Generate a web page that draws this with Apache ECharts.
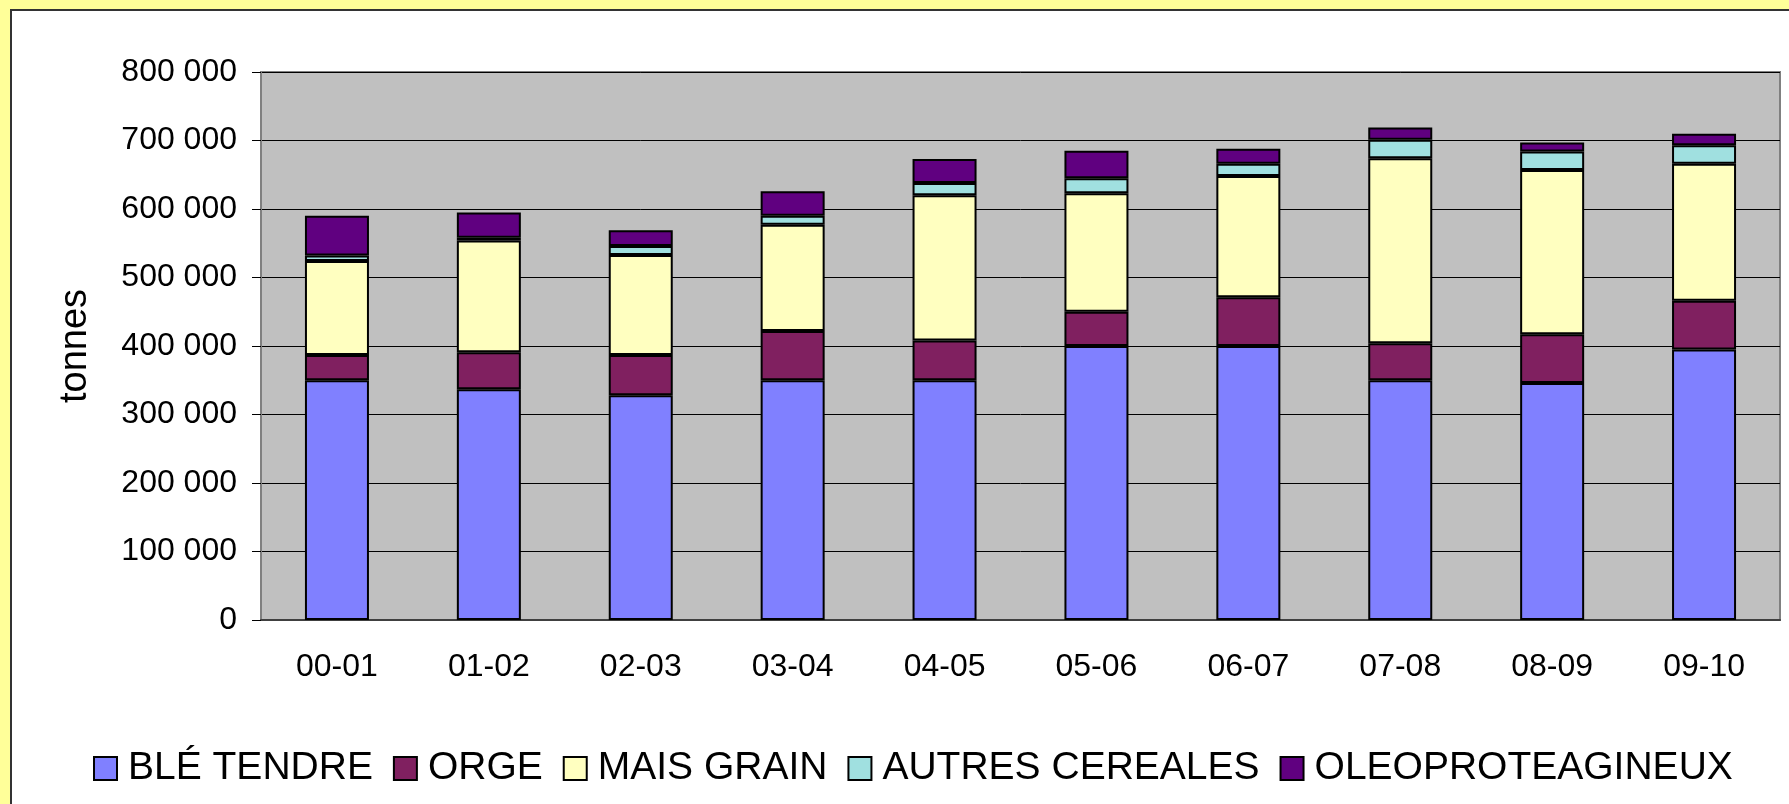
<!DOCTYPE html>
<html>
<head>
<meta charset="utf-8">
<script src="https://cdn.jsdelivr.net/npm/echarts@6/dist/echarts.min.js"></script>
<style>
    html, body {
        margin: 0;
        padding: 0;
        background: #FFFF99;
        overflow: hidden;
    }
    #panel {
        position: absolute;
        left: 10px;
        top: 9px;
        width: 1820px;
        height: 840px;
        background: #fff;
        border: 2px solid #333;
    }
    #chart {
        position: absolute;
        left: 0;
        top: 0;
        width: 1789px;
        height: 804px;
    }
</style>
</head>
<body>
<div id="panel"></div>
<div id="chart"></div>
<script>
const campagnes = ['00-01', '01-02', '02-03', '03-04', '04-05', '05-06', '06-07', '07-08', '08-09', '09-10'];
const bleTendre = [350000, 337000, 328000, 350000, 350000, 400000, 400000, 350000, 346000, 395000];
const orge = [37000, 54000, 59000, 72000, 58000, 50000, 71000, 54000, 71000, 71000];
const maisGrain = [137000, 163000, 146000, 155000, 212000, 173000, 177000, 270000, 240000, 200000];
const autresCereales = [8000, 4000, 13000, 13000, 18000, 22000, 18000, 27000, 27000, 27000];
const oleoproteagineux = [58000, 37000, 23000, 36000, 35000, 40000, 22000, 18000, 13000, 17000];

const font = 'Liberation Sans, Arial, sans-serif';

function fmt(v) {
    return String(v).replace(/\B(?=(\d{3})+(?!\d))/g, ' ');
}

function bar(name, data, color) {
    return {
        name: name,
        type: 'bar',
        stack: 'total',
        barWidth: 64,
        data: data,
        itemStyle: {
            color: color,
            borderColor: '#000',
            borderWidth: 2
        }
    };
}

const chart = echarts.init(document.getElementById('chart'));
chart.setOption({
    backgroundColor: 'transparent',
    animation: false,
    textStyle: { fontFamily: font },
    grid: {
        left: 261,
        right: 9,
        top: 72,
        bottom: 184,
        show: true,
        backgroundColor: '#C0C0C0',
        borderColor: '#808080',
        borderWidth: 2
    },
    legend: {
        left: 93,
        top: 749,
        padding: 0,
        itemWidth: 23,
        itemHeight: 23,
        itemGap: 20,
        icon: 'rect',
        textStyle: {
            fontFamily: font,
            fontSize: 39,
            color: '#000',
            padding: [0, 0, 0, 6]
        }
    },
    xAxis: {
        type: 'category',
        data: campagnes,
        axisLine: { lineStyle: { color: '#404040', width: 2 } },
        axisTick: { length: 10, lineStyle: { color: '#404040', width: 1 } },
        axisLabel: {
            fontSize: 32,
            color: '#000',
            margin: 31
        }
    },
    yAxis: {
        type: 'value',
        min: 0,
        max: 800000,
        interval: 100000,
        name: 'tonnes',
        nameLocation: 'middle',
        nameGap: 166,
        nameTextStyle: { fontSize: 38, color: '#000' },
        axisLine: { show: true, lineStyle: { color: '#808080', width: 2 } },
        axisTick: { show: true, length: 9, lineStyle: { color: '#000' } },
        axisLabel: {
            fontSize: 32,
            color: '#000',
            margin: 24,
            formatter: fmt
        },
        splitLine: { lineStyle: { color: '#000', width: 1 } }
    },
    series: [
        bar('BLÉ TENDRE', bleTendre, '#8080FF'),
        bar('ORGE', orge, '#802060'),
        bar('MAIS GRAIN', maisGrain, '#FFFFC0'),
        bar('AUTRES CEREALES', autresCereales, '#A0E0E0'),
        bar('OLEOPROTEAGINEUX', oleoproteagineux, '#600080')
    ]
});
</script>
</body>
</html>
